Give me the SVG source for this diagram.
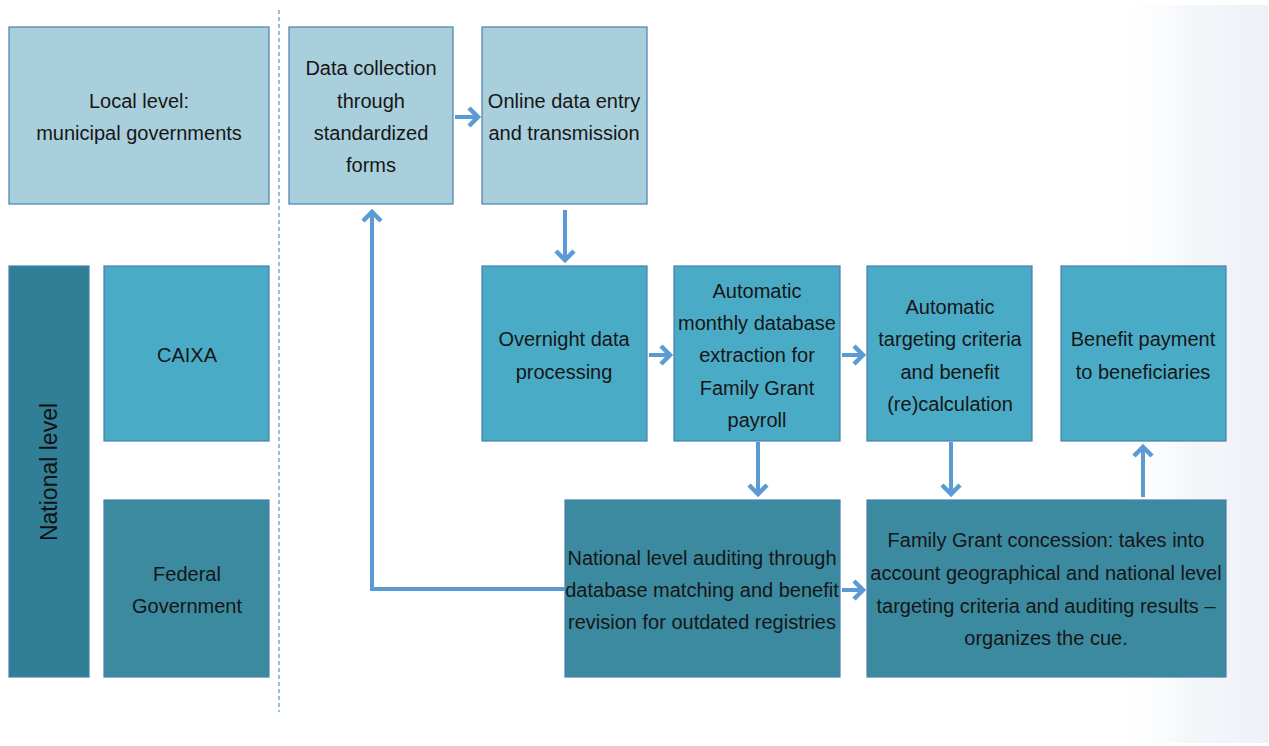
<svg xmlns="http://www.w3.org/2000/svg" width="1269" height="746" viewBox="0 0 1269 746">
  <defs>
    <linearGradient id="edgeShade" x1="0" y1="0" x2="1" y2="0">
      <stop offset="0" stop-color="#ffffff" stop-opacity="0"/>
      <stop offset="0.5" stop-color="#f4f7fa"/>
      <stop offset="1" stop-color="#edf1f6"/>
    </linearGradient>
    <style>
      .box { stroke: #4a7fae; stroke-width: 1.2; }
      .light { fill: #a9cfdc; }
      .mid { fill: #4aabc6; }
      .dark { fill: #3b8aa0; }
      .band { fill: #317f96; }
      .lbl { font-family: "Liberation Sans", Arial, sans-serif; font-size: 20px; fill: #161616; text-anchor: middle; }
      .side { font-family: "Liberation Sans", Arial, sans-serif; font-size: 23px; fill: #111111; text-anchor: middle; }
      .wire { fill: none; stroke: #5b9bd5; stroke-width: 4; stroke-linejoin: miter; }
      .head { fill: none; stroke: #5b9bd5; stroke-width: 4.5; stroke-linecap: butt; stroke-linejoin: miter; }
      .divider { stroke: #5b9bd5; stroke-width: 1.3; stroke-dasharray: 4 3; }
    </style>
  </defs>

  <rect width="1269" height="746" fill="#ffffff"/>
  <rect x="1110" y="5" width="158" height="738" fill="url(#edgeShade)"/>

  <!-- separator between the level labels and the process -->
  <line class="divider" x1="279" y1="10" x2="279" y2="712"/>

  <g id="local-level">
    <rect class="box light" x="9" y="27" width="260" height="177"/>
    <text class="lbl" x="139" y="108">Local level:</text>
    <text class="lbl" x="139" y="140">municipal governments</text>
  </g>

  <g id="national-level">
    <rect class="box band" x="9" y="266" width="80" height="411"/>
    <text class="side" transform="translate(57 472) rotate(-90)">National level</text>
  </g>

  <g id="caixa">
    <rect class="box mid" x="104" y="266" width="165" height="175"/>
    <text class="lbl" x="187" y="362">CAIXA</text>
  </g>

  <g id="federal-government">
    <rect class="box dark" x="104" y="500" width="165" height="177"/>
    <text class="lbl" x="187" y="581">Federal</text>
    <text class="lbl" x="187" y="613">Government</text>
  </g>

  <g id="data-collection">
    <rect class="box light" x="289" y="27" width="164" height="177"/>
    <text class="lbl" x="371" y="75">Data collection</text>
    <text class="lbl" x="371" y="108">through</text>
    <text class="lbl" x="371" y="140">standardized</text>
    <text class="lbl" x="371" y="172">forms</text>
  </g>

  <g id="online-entry">
    <rect class="box light" x="482" y="27" width="165" height="177"/>
    <text class="lbl" x="564" y="108">Online data entry</text>
    <text class="lbl" x="564" y="140">and transmission</text>
  </g>

  <g id="overnight-processing">
    <rect class="box mid" x="482" y="266" width="165" height="175"/>
    <text class="lbl" x="564" y="346">Overnight data</text>
    <text class="lbl" x="564" y="379">processing</text>
  </g>

  <g id="monthly-extraction">
    <rect class="box mid" x="674" y="266" width="166" height="175"/>
    <text class="lbl" x="757" y="298">Automatic</text>
    <text class="lbl" x="757" y="330">monthly database</text>
    <text class="lbl" x="757" y="362">extraction for</text>
    <text class="lbl" x="757" y="395">Family Grant</text>
    <text class="lbl" x="757" y="427">payroll</text>
  </g>

  <g id="targeting-calculation">
    <rect class="box mid" x="867" y="266" width="165" height="175"/>
    <text class="lbl" x="950" y="314">Automatic</text>
    <text class="lbl" x="950" y="346">targeting criteria</text>
    <text class="lbl" x="950" y="379">and benefit</text>
    <text class="lbl" x="950" y="411">(re)calculation</text>
  </g>

  <g id="benefit-payment">
    <rect class="box mid" x="1061" y="266" width="165" height="175"/>
    <text class="lbl" x="1143" y="346">Benefit payment</text>
    <text class="lbl" x="1143" y="379">to beneficiaries</text>
  </g>

  <g id="national-auditing">
    <rect class="box dark" x="565" y="500" width="275" height="177"/>
    <text class="lbl" x="702" y="565">National level auditing through</text>
    <text class="lbl" x="702" y="597">database matching and benefit</text>
    <text class="lbl" x="702" y="629">revision for outdated registries</text>
  </g>

  <g id="grant-concession">
    <rect class="box dark" x="867" y="500" width="359" height="177"/>
    <text class="lbl" x="1046" y="547">Family Grant concession: takes into</text>
    <text class="lbl" x="1046" y="580">account geographical and national level</text>
    <text class="lbl" x="1046" y="613">targeting criteria and auditing results –</text>
    <text class="lbl" x="1046" y="645">organizes the cue.</text>
  </g>

  <g id="connectors">
    <!-- data collection to online entry -->
    <line class="wire" x1="455" y1="117" x2="478" y2="117"/>
    <polyline class="head" points="469,108 478,117 469,126"/>
    <!-- online entry down to overnight processing -->
    <line class="wire" x1="565" y1="210" x2="565" y2="260"/>
    <polyline class="head" points="556,251 565,260 574,251"/>
    <!-- overnight to monthly extraction -->
    <line class="wire" x1="649" y1="355" x2="670" y2="355"/>
    <polyline class="head" points="661,346 670,355 661,364"/>
    <!-- monthly extraction to targeting -->
    <line class="wire" x1="842" y1="355" x2="863" y2="355"/>
    <polyline class="head" points="854,346 863,355 854,364"/>
    <!-- monthly extraction down to auditing -->
    <line class="wire" x1="758" y1="442" x2="758" y2="494"/>
    <polyline class="head" points="749,485 758,494 767,485"/>
    <!-- targeting down to concession -->
    <line class="wire" x1="951" y1="442" x2="951" y2="494"/>
    <polyline class="head" points="942,485 951,494 960,485"/>
    <!-- concession up to benefit payment -->
    <line class="wire" x1="1143" y1="497" x2="1143" y2="447"/>
    <polyline class="head" points="1134,456 1143,447 1152,456"/>
    <!-- auditing to concession -->
    <line class="wire" x1="842" y1="590" x2="863" y2="590"/>
    <polyline class="head" points="854,581 863,590 854,599"/>
    <!-- auditing feedback to data collection -->
    <polyline class="wire" points="565,589 372,589 372,212"/>
    <polyline class="head" points="363,221 372,212 381,221"/>
  </g>
</svg>
